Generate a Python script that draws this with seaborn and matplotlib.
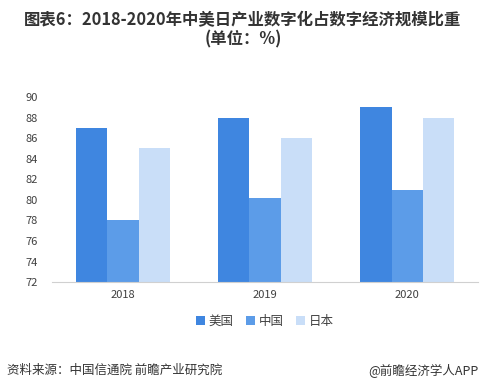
import matplotlib
matplotlib.use("Agg")
import matplotlib.pyplot as plt
import seaborn as sns
import pandas as pd

years = ["2018", "2019", "2020"]
countries = ["美国", "中国", "日本"]
us = [87, 88, 89]
cn = [78, 80.2, 81]
jp = [85, 86, 88]
palette = ["#3F86E0", "#5C9CE8", "#C9DEF8"]

df = pd.DataFrame({
    "year": years * 3,
    "country": [c for c in countries for _ in years],
    "value": us + cn + jp,
})

sns.set_style("white")
plt.rcParams["font.family"] = ["Noto Sans CJK SC", "DejaVu Sans"]

fig = plt.figure(figsize=(4.86, 3.88), dpi=100)
ax = fig.add_axes([0.107, 0.273, 0.877, 0.477])
sns.barplot(data=df, x="year", y="value", hue="country", palette=palette,
            width=0.66, saturation=1, linewidth=0, ax=ax, legend=True)
ax.set_ylim(72, 90)
ax.set_yticks(range(72, 91, 2))
ax.set_xlabel("")
ax.set_ylabel("")
for s in ["top", "right", "left"]:
    ax.spines[s].set_visible(False)
ax.spines["bottom"].set_color("#d0d0d0")
ax.tick_params(axis="both", length=0, labelsize=8, colors="#404040", pad=6)
ax.tick_params(axis="y", pad=10)

ax.legend(loc="upper center", bbox_to_anchor=(0.5, -0.115), ncol=3, frameon=False,
          fontsize=9, handlelength=0.7, handleheight=0.7, handletextpad=0.3,
          columnspacing=1.0, labelcolor="#404040")

fig.text(0.5, 0.948, "图表6：2018-2020年中美日产业数字化占数字经济规模比重", ha="center",
         va="center", fontsize=11.8, fontweight="bold", color="#333333")
fig.text(0.5, 0.897, "(单位：%)", ha="center", va="center", fontsize=11.8,
         fontweight="bold", color="#333333")
fig.text(0.015, 0.045, "资料来源：中国信通院 前瞻产业研究院", ha="left", va="center",
         fontsize=9, color="#333333")
fig.text(0.985, 0.045, "@前瞻经济学人APP", ha="right", va="center",
         fontsize=9, color="#333333")

fig.savefig("out.png", dpi=100)
